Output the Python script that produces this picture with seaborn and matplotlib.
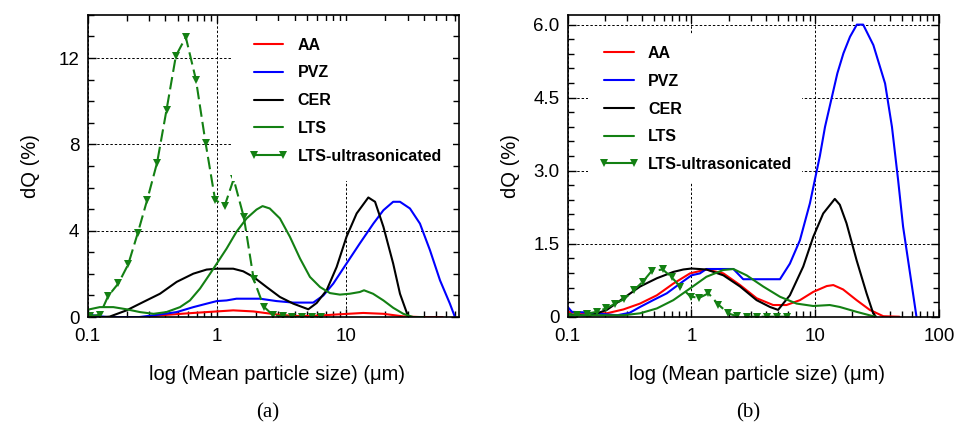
import numpy as np
import pandas as pd
import matplotlib
matplotlib.use("Agg")
import matplotlib.pyplot as plt
import seaborn as sns
from matplotlib.ticker import (FixedLocator, LogLocator, MultipleLocator,
                               FuncFormatter, NullFormatter, FixedFormatter)
from matplotlib.lines import Line2D

sns.set_theme(style="ticks")
plt.rcParams["font.family"] = ["Liberation Sans", "DejaVu Sans"]

RED, BLUE, BLACK, GREEN = "#ff0000", "#0000ff", "#000000", "#138013"
series_names = ["AA", "PVZ", "CER", "LTS", "LTS-ultrasonicated"]
series_colors = [RED, BLUE, BLACK, GREEN, GREEN]

# ---------------- panel (a) ----------------
a_aa_size = [0.1, 0.3, 0.363, 0.658, 1.0, 1.34, 1.92, 2.90, 3.91, 5.58, 8.47, 13.6, 19.5, 27.8, 37.4, 56.0]
a_aa_dq = [0.0, 0.0, 0.08, 0.19, 0.26, 0.31, 0.26, 0.12, 0.05, 0.05, 0.12, 0.19, 0.15, 0.03, 0.0, 0.0]

a_pvz_size = [0.1, 0.11, 0.141, 0.251, 0.363, 0.489, 0.658, 0.834, 1.0, 1.19, 1.42, 2.16, 2.90, 3.91,
              5.58, 6.68, 7.98, 10.1, 12.8, 16.3, 19.5, 23.2, 26.2, 31.3, 37.4, 44.7, 53.5, 63.8, 69.8]
a_pvz_dq = [0.15, 0.08, 0.0, 0.0, 0.12, 0.23, 0.46, 0.62, 0.74, 0.77, 0.85, 0.85, 0.74, 0.67,
            0.67, 1.0, 1.55, 2.48, 3.41, 4.33, 4.95, 5.34, 5.34, 5.03, 4.33, 3.1, 1.7, 0.62, 0.0]

a_cer_size = [0.13, 0.148, 0.2, 0.27, 0.363, 0.489, 0.658, 0.834, 1.0, 1.34, 1.60, 1.92, 2.43, 3.08,
              3.91, 5.11, 5.93, 7.08, 8.47, 10.1, 12.1, 14.9, 16.8, 19.5, 23.2, 26.2, 30.4, 35.5]
a_cer_dq = [0.0, 0.02, 0.31, 0.70, 1.08, 1.63, 2.01, 2.2, 2.24, 2.24, 2.12, 1.86, 1.39, 0.93,
            0.62, 0.36, 0.65, 1.24, 2.32, 3.72, 4.8, 5.54, 5.34, 4.18, 2.48, 1.08, 0.0, 0.0]

a_lts_size = [0.1, 0.124, 0.158, 0.2, 0.254, 0.324, 0.407, 0.519, 0.619, 0.741, 0.885, 1.0, 1.19,
              1.42, 1.70, 2.03, 2.26, 2.57, 3.08, 3.68, 4.41, 5.26, 6.30, 7.52, 8.97, 10.7, 12.8,
              13.8, 16.2, 19.5, 23.2, 27.8, 33.1, 39.8]
a_lts_dq = [0.34, 0.46, 0.46, 0.36, 0.23, 0.15, 0.23, 0.46, 0.77, 1.32, 2.0, 2.48, 3.17,
            3.95, 4.57, 4.98, 5.14, 5.03, 4.57, 3.72, 2.71, 1.86, 1.39, 1.11, 1.04, 1.08, 1.16,
            1.24, 1.08, 0.77, 0.43, 0.15, 0.0, 0.0]

a_ultra_size = [0.105, 0.124, 0.144, 0.173, 0.206, 0.244, 0.289, 0.345, 0.408, 0.482, 0.575, 0.689,
                0.818, 0.970, 1.15, 1.35, 1.62, 1.93, 2.31, 2.72, 3.24, 3.85, 4.57, 5.43, 6.46]
a_ultra_dq = [0.05, 0.1, 0.97, 1.56, 2.44, 3.88, 5.43, 7.16, 9.6, 12.1, 12.97, 11.0,
              8.08, 5.43, 5.15, 6.39, 4.62, 1.75, 0.48, 0.09, 0.03, 0.02, 0.0, 0.0, 0.0]

# ---------------- panel (b) ----------------
b_aa_size = [0.1, 0.118, 0.207, 0.282, 0.384, 0.525, 0.713, 0.973, 1.32, 1.81, 2.47, 3.36, 4.57,
             5.86, 7.52, 9.64, 12.4, 14.0, 16.8, 21.6, 27.6, 35.5, 47.9]
b_aa_dq = [0.1, 0.08, 0.07, 0.15, 0.27, 0.44, 0.68, 0.89, 0.97, 0.89, 0.65, 0.38, 0.24,
           0.24, 0.34, 0.51, 0.63, 0.65, 0.56, 0.34, 0.14, 0.01, 0.0]

b_pvz_size = [0.1, 0.108, 0.133, 0.251, 0.316, 0.384, 0.49, 0.631, 0.807, 1.0, 1.17, 1.32, 2.18,
              2.62, 5.19, 6.24, 7.52, 9.06, 10.9, 12.0, 13.6, 15.1, 16.9, 19.1, 21.7, 24.4, 29.5,
              36.7, 41.7, 46.8, 51.3, 61.7, 65.8]
b_pvz_dq = [0.2, 0.1, 0.09, 0.03, 0.08, 0.2, 0.34, 0.48, 0.68, 0.85, 0.89, 0.98, 0.98,
            0.77, 0.77, 1.09, 1.57, 2.33, 3.3, 3.9, 4.5, 5.0, 5.41, 5.75, 6.0, 6.0, 5.58,
            4.79, 3.9, 2.8, 1.85, 0.48, 0.0]

b_cer_size = [0.1, 0.151, 0.207, 0.282, 0.384, 0.525, 0.713, 0.859, 1.0, 1.32, 1.81, 2.47, 3.36,
              4.31, 5.01, 6.24, 8.0, 9.64, 11.6, 14.4, 15.8, 17.9, 21.6, 26.0, 29.4, 30.9]
b_cer_dq = [0.05, 0.02, 0.14, 0.38, 0.62, 0.79, 0.92, 0.97, 0.99, 0.97, 0.85, 0.62, 0.34,
            0.2, 0.14, 0.44, 1.03, 1.64, 2.12, 2.42, 2.3, 1.92, 1.16, 0.48, 0.07, 0.0]

b_lts_size = [0.1, 0.282, 0.384, 0.525, 0.713, 0.973, 1.32, 1.81, 2.18, 2.79, 3.80, 5.19, 7.06,
              9.64, 13.1, 15.8, 21.6, 29.4, 31.0]
b_lts_dq = [0.03, 0.03, 0.07, 0.17, 0.34, 0.58, 0.82, 0.96, 0.98, 0.85, 0.62, 0.41, 0.27,
            0.22, 0.24, 0.2, 0.1, 0.01, 0.0]

b_ultra_size = [0.1, 0.118, 0.142, 0.171, 0.203, 0.243, 0.285, 0.344, 0.405, 0.477, 0.586, 0.692,
                0.810, 0.986, 1.16, 1.37, 1.65, 1.98, 2.32, 2.79, 3.36, 4.04, 4.88, 5.86]
b_ultra_dq = [0.0, 0.04, 0.06, 0.10, 0.17, 0.27, 0.36, 0.55, 0.72, 0.94, 0.97, 0.81,
              0.62, 0.41, 0.39, 0.48, 0.25, 0.07, 0.01, 0.0, 0.0, 0.0, 0.0, 0.0]

panel_a = [(a_aa_size, a_aa_dq), (a_pvz_size, a_pvz_dq), (a_cer_size, a_cer_dq),
           (a_lts_size, a_lts_dq), (a_ultra_size, a_ultra_dq)]
panel_b = [(b_aa_size, b_aa_dq), (b_pvz_size, b_pvz_dq), (b_cer_size, b_cer_dq),
           (b_lts_size, b_lts_dq), (b_ultra_size, b_ultra_dq)]

LW = 1.5


def draw_panel(ax, data, xticks, xmax, ymax, yticks, ylabels, yminor, legend_box, borderpad):
    for name, color, (xs, ys) in zip(series_names, series_colors, data):
        df = pd.DataFrame({"size": xs, "dQ": ys})
        kw = dict(data=df, x="size", y="dQ", ax=ax, color=color, lw=LW,
                  errorbar=None, legend=False)
        if name == "LTS-ultrasonicated":
            sns.lineplot(**kw, linestyle=(0, (6, 2.5)), marker="v", markersize=6,
                         markeredgewidth=0, markerfacecolor=color)
        else:
            sns.lineplot(**kw)

    ax.set_xscale("log")
    ax.set_xlim(0.1, xmax)
    ax.set_ylim(0, ymax)
    ax.xaxis.set_major_locator(FixedLocator(xticks))
    ax.xaxis.set_major_formatter(FuncFormatter(lambda v, p: f"{v:g}"))
    ax.xaxis.set_minor_locator(LogLocator(base=10, subs=np.arange(2, 10)))
    ax.xaxis.set_minor_formatter(NullFormatter())
    ax.yaxis.set_major_locator(FixedLocator(yticks))
    ax.yaxis.set_major_formatter(FixedFormatter(ylabels))
    ax.yaxis.set_minor_locator(MultipleLocator(yminor))

    ax.tick_params(which="both", direction="in", top=True, right=True,
                   color="black", width=1.0, labelsize=13.5, labelcolor="black")
    ax.tick_params(which="major", length=6)
    ax.tick_params(which="minor", length=4)
    ax.tick_params(axis="x", pad=8)
    ax.tick_params(axis="y", pad=6)
    for sp in ax.spines.values():
        sp.set_color("black")
        sp.set_linewidth(1.2)
        sp.set_visible(True)

    ax.grid(True, which="major", color="black", lw=0.7, ls=(0, (2.5, 2)))
    ax.grid(False, which="minor")

    ax.set_xlabel("log (Mean particle size) (\u03bcm)", fontsize=14.5, color="black")
    ax.xaxis.label.set_va("center")
    ax.xaxis.set_label_coords(0.51, -0.19)
    ax.set_ylabel("dQ (%)", fontsize=14.5, color="black")
    ax.yaxis.label.set_va("center")
    ax.yaxis.set_label_coords(-0.155, 0.5)

    handles = [Line2D([], [], color=c, lw=LW) for c in series_colors[:4]]
    handles.append(Line2D([], [], color=GREEN, lw=LW, marker="v", markersize=6,
                          markeredgewidth=0))
    leg = ax.legend(handles, series_names, loc="upper left", bbox_to_anchor=legend_box,
                    mode="expand", borderaxespad=0, borderpad=borderpad, frameon=True,
                    framealpha=1, facecolor="white", edgecolor="white", fancybox=False,
                    prop={"weight": "bold", "size": 11.5}, handlelength=2.45,
                    handletextpad=0.6, labelspacing=0.8, numpoints=2)
    leg.get_frame().set_linewidth(0)
    for t in leg.get_texts():
        t.set_color("black")


fig = plt.figure(figsize=(9.55, 4.25), dpi=100)
ax_a = fig.add_axes([0.0918, 0.254, 0.3888, 0.711])
ax_b = fig.add_axes([0.5945, 0.2548, 0.3887, 0.7102])

draw_panel(ax_a, panel_a, [0.1, 1, 10], 75, 14, [0, 4, 8, 12], ["0", "4", "8", "12"], 1,
           (0.389, 0.0, 0.596, 0.98), 1.05)
draw_panel(ax_b, panel_b, [0.1, 1, 10, 100], 100, 6.2, [0, 1.5, 3.0, 4.5, 6.0],
           ["0", "1.5", "3.0", "4.5", "6.0"], 0.3, (0.055, 0.0, 0.575, 0.934), 0.7)

fig.text(268 / 955, 1 - 413 / 425, "(a)", family="Liberation Serif", fontsize=15,
         ha="center", va="center", color="black")
fig.text(748 / 955, 1 - 413 / 425, "(b)", family="Liberation Serif", fontsize=15,
         ha="center", va="center", color="black")

fig.savefig("out.png", dpi=100, facecolor="white")
